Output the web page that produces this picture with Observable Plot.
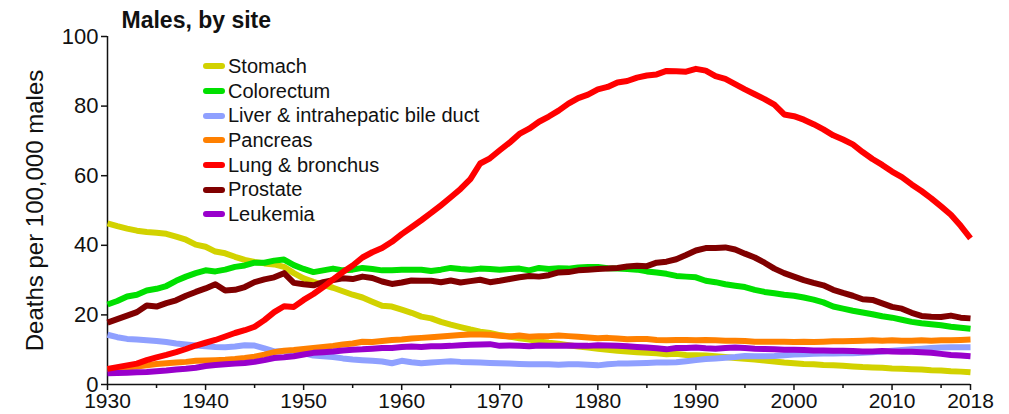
<!DOCTYPE html>
<html>
<head>
<meta charset="utf-8">
<script src="https://cdn.jsdelivr.net/npm/d3@7"></script>
<script src="https://cdn.jsdelivr.net/npm/@observablehq/plot@0.6"></script>
<style>
  html, body { margin: 0; padding: 0; background: #fff; }
  #wrap { position: relative; width: 1009px; height: 414px; font-family: "Liberation Sans", Arial, sans-serif; }
  #legend { position: absolute; left: 203px; top: 54px; font-size: 20px; color: #111; z-index: 2; }
  .row { height: 24.7px; display: flex; align-items: center; white-space: nowrap; }
  .sw { width: 22px; height: 6px; border-radius: 3px; margin-right: 3px; }
</style>
</head>
<body>
<div id="wrap"><div id="legend"></div></div>
<script>
const title = "Males, by site";
const yLabel = "Deaths per 100,000 males";
const startYear = 1930;
const xTicks = [1930, 1940, 1950, 1960, 1970, 1980, 1990, 2000, 2010, 2018];
const xMinorTicks = [1935, 1945, 1955, 1965, 1975, 1985, 1995, 2005, 2015];
const yTicks = [0, 20, 40, 60, 80, 100];

const seriesNames = ["Stomach", "Colorectum", "Liver & intrahepatic bile duct", "Pancreas", "Lung & bronchus", "Prostate", "Leukemia"];
const seriesColors = ["#d2d200", "#00e000", "#8fa0ff", "#ff8000", "#ff0000", "#800000", "#9900cc"];

// yearly values 1930..2018
const stomach = [46.3,45.5,44.8,44.2,43.8,43.6,43.3,42.5,41.6,40.2,39.6,38.2,37.7,36.7,35.8,35.2,34.8,34.5,33.8,32,30.5,29.5,28.6,27.8,26.8,25.8,25,23.8,22.6,22.4,21.5,20.6,19.5,19,18,17.2,16.5,15.8,15.2,14.8,14.2,13.8,13.3,12.9,12.4,12,11.7,11.3,10.9,10.6,10.3,10,9.7,9.5,9.3,9.1,9,8.7,8.8,8.5,8.4,8.3,8.1,7.9,7.6,7.4,7.2,6.9,6.6,6.3,6.1,5.9,5.8,5.6,5.5,5.4,5.2,5,4.9,4.8,4.6,4.5,4.4,4.3,4.1,4,3.8,3.7,3.5];
const colorectum = [23,24,25.3,25.8,27,27.5,28.3,29.8,31,32,32.8,32.5,33,33.8,34.2,35,35,35.6,35.9,34.3,33.2,32.3,32.8,33.3,32.8,33,33.5,33.2,32.8,32.8,33,33,33,32.6,33,33.5,33.2,33,33.3,33.2,33,33.2,33.3,32.8,33.5,33.2,33.4,33.3,33.6,33.8,33.8,33.4,33.3,33.2,33,32.5,32.2,31.8,31.2,31,30.8,29.8,29.4,28.8,28.4,28,27.2,26.6,26.2,25.8,25.5,25,24.4,23.6,22.4,21.8,21.2,20.7,20.2,19.6,19.2,18.6,18,17.6,17.3,17,16.6,16.3,16];
const liver = [14.3,13.6,13.1,12.9,12.7,12.5,12.2,11.8,11.5,11.2,11,10.8,10.7,10.9,11.3,11.2,10.4,9.5,9.6,9.6,9,8.3,8.1,7.9,7.5,7.2,7,6.8,6.6,6.1,6.8,6.4,6.1,6.3,6.5,6.7,6.5,6.4,6.3,6.2,6.1,6,5.9,5.8,5.8,5.8,5.7,5.8,5.8,5.7,5.5,5.8,6,6,6.1,6.2,6.3,6.3,6.4,6.7,7,7.3,7.5,7.7,7.9,8.2,8.1,8.1,8.2,8.4,8.6,8.7,8.8,8.9,8.9,9,9,9.1,9.3,9.5,9.7,9.9,10.1,10.3,10.5,10.6,10.7,10.7,10.7];
const pancreas = [4.4,4.6,4.9,5.2,5.5,5.9,6.1,6.3,6.5,6.8,6.9,7,7.1,7.3,7.6,8,8.6,9.3,9.7,9.9,10.2,10.5,10.8,11.1,11.5,11.8,12.3,12.2,12.5,12.8,12.9,13.2,13.4,13.6,13.8,14,14.2,14.4,14.4,14.3,14,13.8,14.1,13.7,13.9,13.9,14.1,13.9,13.7,13.5,13.3,13.4,13.2,13,13.1,13.1,12.8,12.7,12.8,12.8,12.7,12.8,12.7,12.6,12.6,12.5,12.3,12.3,12.3,12.3,12.2,12.3,12.2,12.3,12.4,12.4,12.5,12.6,12.7,12.6,12.7,12.6,12.6,12.7,12.6,12.7,12.7,12.8,12.9];
const lung = [4.5,5,5.5,6,7,7.8,8.5,9.3,10.2,11.2,12,12.8,13.8,14.8,15.6,16.6,18.5,20.8,22.5,22.3,24.3,26,28,30.2,32.3,34.2,36.5,38,39.2,41,43.2,45.2,47.2,49.3,51.5,53.8,56.2,59,63.5,65,67.3,69.5,72,73.5,75.5,77,78.7,80.7,82.3,83.3,84.8,85.5,86.8,87.2,88.2,88.8,89.1,90.1,90,89.9,90.7,90.2,88.6,87.8,86.3,84.8,83.4,82,80.4,77.6,77.1,76.1,74.8,73.3,71.6,70.4,69,66.8,64.8,63.1,61.2,59.6,57.5,55.6,53.5,51.2,48.8,45.6,42];
const prostate = [17.8,18.8,19.8,20.8,22.7,22.4,23.4,24.2,25.5,26.6,27.6,28.8,27,27.2,28,29.4,30.2,30.8,32,29.2,28.8,28.5,29.4,30,30.5,30.3,31,30.6,29.6,28.9,29.3,29.9,29.8,29.8,29.4,29.9,29.3,29.7,30.1,29.4,29.8,30.3,30.8,31.2,31,31.4,32.2,32.3,32.8,33,33.2,33.3,33.5,33.9,34.1,34,35,35.3,36,37.2,38.5,39.2,39.2,39.4,38.8,37.6,36.5,35,33.3,32,31,30,29.2,28.5,27.2,26.3,25.5,24.5,24.3,23.3,22.3,21.8,20.6,19.7,19.5,19.4,19.8,19.2,19];
const leukemia = [3.2,3.3,3.4,3.5,3.6,3.8,4,4.3,4.5,4.8,5.3,5.6,5.8,6,6.2,6.5,7,7.6,7.8,8.1,8.6,9.1,9.3,9.5,9.8,10,10.1,10.3,10.5,10.5,10.8,10.9,10.8,11,11,11.1,11.3,11.4,11.5,11.6,11.1,11.2,11.1,11,11.2,11.1,11.1,11.2,11.1,11.1,11.3,11.2,11.1,11,10.8,10.6,10.4,10.1,10.5,10.5,10.6,10.4,10.3,10.5,10.6,10.5,10.3,10.2,10.1,10,10,9.9,9.8,9.8,9.7,9.7,9.6,9.5,9.5,9.6,9.5,9.4,9.4,9.3,9.1,8.8,8.5,8.3,8.1];

const seriesValues = [stomach, colorectum, liver, pancreas, lung, prostate, leukemia];

const rows = [];
seriesValues.forEach((vals, i) => {
  vals.forEach((v, j) => rows.push({series: seriesNames[i], year: startYear + j, value: v}));
});

const font = '"Liberation Sans", Arial, sans-serif';
const drawOrder = ["Stomach", "Colorectum", "Liver & intrahepatic bile duct", "Pancreas", "Prostate", "Leukemia", "Lung & bronchus"];

const chart = Plot.plot({
  width: 1009,
  height: 414,
  marginLeft: 107,
  marginRight: 39,
  marginTop: 36,
  marginBottom: 30,
  style: {fontFamily: font, fontSize: "21px", color: "#111", background: "#fff", overflow: "visible"},
  x: {domain: [1930, 2018]},
  y: {domain: [0, 100]},
  color: {domain: seriesNames, range: seriesColors},
  marks: [
    Plot.axisX({ticks: xTicks, tickFormat: d => String(d), tickSize: 6, tickPadding: 3, label: null, strokeWidth: 1.5, fontSize: 21}),
    Plot.axisX({ticks: xMinorTicks, tickSize: 4, text: null, label: null, strokeWidth: 1.5}),
    Plot.axisY({ticks: yTicks, tickSize: 6, tickPadding: 3, label: null, strokeWidth: 1.5, fontSize: 22}),
    Plot.ruleY([0], {strokeWidth: 1.5}),
    Plot.ruleX([1930], {strokeWidth: 1.5}),
    ...drawOrder.map(name => Plot.line(rows.filter(d => d.series === name), {
      x: "year", y: "value", stroke: "series", strokeWidth: 6, strokeLinejoin: "round", strokeLinecap: "butt"
    })),
    Plot.text([yLabel], {frameAnchor: "left", rotate: -90, dx: -72, fontSize: 24, textAnchor: "middle", lineAnchor: "middle"}),
    Plot.text([title], {frameAnchor: "top-left", dx: 14, dy: -16, fontSize: 23, fontWeight: "bold", textAnchor: "start", lineAnchor: "middle"})
  ]
});
chart.style.position = "absolute";
chart.style.left = "0";
chart.style.top = "0";
chart.style.zIndex = "1";
document.getElementById("wrap").appendChild(chart);

const legend = document.getElementById("legend");
seriesNames.forEach((name, i) => {
  const r = document.createElement("div");
  r.className = "row";
  const sw = document.createElement("div");
  sw.className = "sw";
  sw.style.background = seriesColors[i];
  const t = document.createElement("span");
  t.textContent = name;
  r.appendChild(sw); r.appendChild(t);
  legend.appendChild(r);
});
</script>
</body>
</html>
